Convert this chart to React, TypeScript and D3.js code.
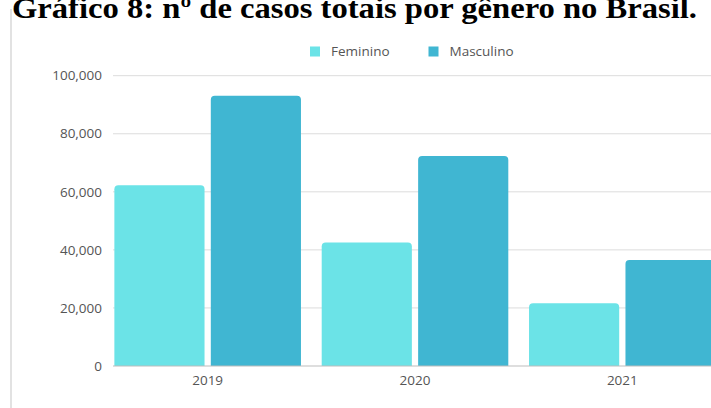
import React from "react";
import * as d3 from "d3";

const years = ["2019", "2020", "2021"];
const series = ["Feminino", "Masculino"];
const feminino = [62300, 42500, 21600];
const masculino = [93100, 72300, 36500];
const yTicks = [0, 20000, 40000, 60000, 80000, 100000];
const colors = ["#6be3e7", "#40b6d2"];
const title = "Gráfico 8: nº de casos totais por gênero no Brasil.";

const W = 711;
const H = 408;

function topRounded(x: number, y: number, w: number, h: number, r: number) {
  const rr = Math.min(r, h / 2, w / 2);
  return `M${x},${y + h}V${y + rr}Q${x},${y} ${x + rr},${y}H${x + w - rr}Q${x + w},${y} ${x + w},${y + rr}V${y + h}Z`;
}

export default function App() {
  const y = d3.scaleLinear().domain([0, 100000]).range([366, 75.7]);
  const x0 = d3
    .scaleBand<string>()
    .domain(years)
    .range([104, 726])
    .paddingInner(0.1)
    .paddingOuter(0.05);
  const x1 = d3
    .scaleBand<string>()
    .domain(series)
    .range([0, x0.bandwidth()])
    .paddingInner(0.065);
  const values = [feminino, masculino];
  const font = "'Open Sans', sans-serif";
  const fmt = d3.format(",");

  return (
    <svg
      width={W}
      height={H}
      style={{ position: "absolute", left: 0, top: 0, background: "#fff" }}
    >
      <rect x={0} y={0} width={W} height={H} fill="#fff" />
      <line x1={11} x2={11} y1={9} y2={H} stroke="#d9d9d9" strokeWidth={1.5} />
      <text
        x={12}
        y={17.5}
        fontFamily="'Liberation Serif', 'Times New Roman', serif"
        fontWeight="bold"
        fontSize={30}
        fill="#000"
        textLength={685}
        lengthAdjust="spacingAndGlyphs"
      >
        {title}
      </text>

      {yTicks.map((t) => (
        <g key={t}>
          {t > 0 && (
            <line x1={113} x2={W} y1={y(t)} y2={y(t)} stroke="#dcdcdc" strokeWidth={1} />
          )}
          <text
            x={102}
            y={y(t)}
            dy="0.35em"
            textAnchor="end"
            fontFamily={font}
            fontSize={13.5}
            fill="#555"
          >
            {fmt(t)}
          </text>
        </g>
      ))}

      {years.map((yr, i) => (
        <g key={yr} transform={`translate(${x0(yr)},0)`}>
          {series.map((s, j) => {
            const v = values[j][i];
            const bx = x1(s)!;
            return (
              <path
                key={s}
                d={topRounded(bx, y(v), x1.bandwidth(), y(0) - y(v), 4)}
                fill={colors[j]}
              />
            );
          })}
          <text
            x={x0.bandwidth() / 2}
            y={385}
            textAnchor="middle"
            fontFamily={font}
            fontSize={13.5}
            fill="#555"
          >
            {yr}
          </text>
        </g>
      ))}

      <line x1={113} x2={W} y1={y(0)} y2={y(0)} stroke="#bdbdbd" strokeWidth={1} />

      {series.map((s, j) => {
        const lx = j === 0 ? 310 : 428.5;
        return (
          <g key={s}>
            <rect x={lx} y={46.5} width={10} height={10} fill={colors[j]} />
            <text
              x={lx + 21}
              y={51.5}
              dy="0.35em"
              fontFamily={font}
              fontSize={13.5}
              fill="#555"
            >
              {s}
            </text>
          </g>
        );
      })}
    </svg>
  );
}
